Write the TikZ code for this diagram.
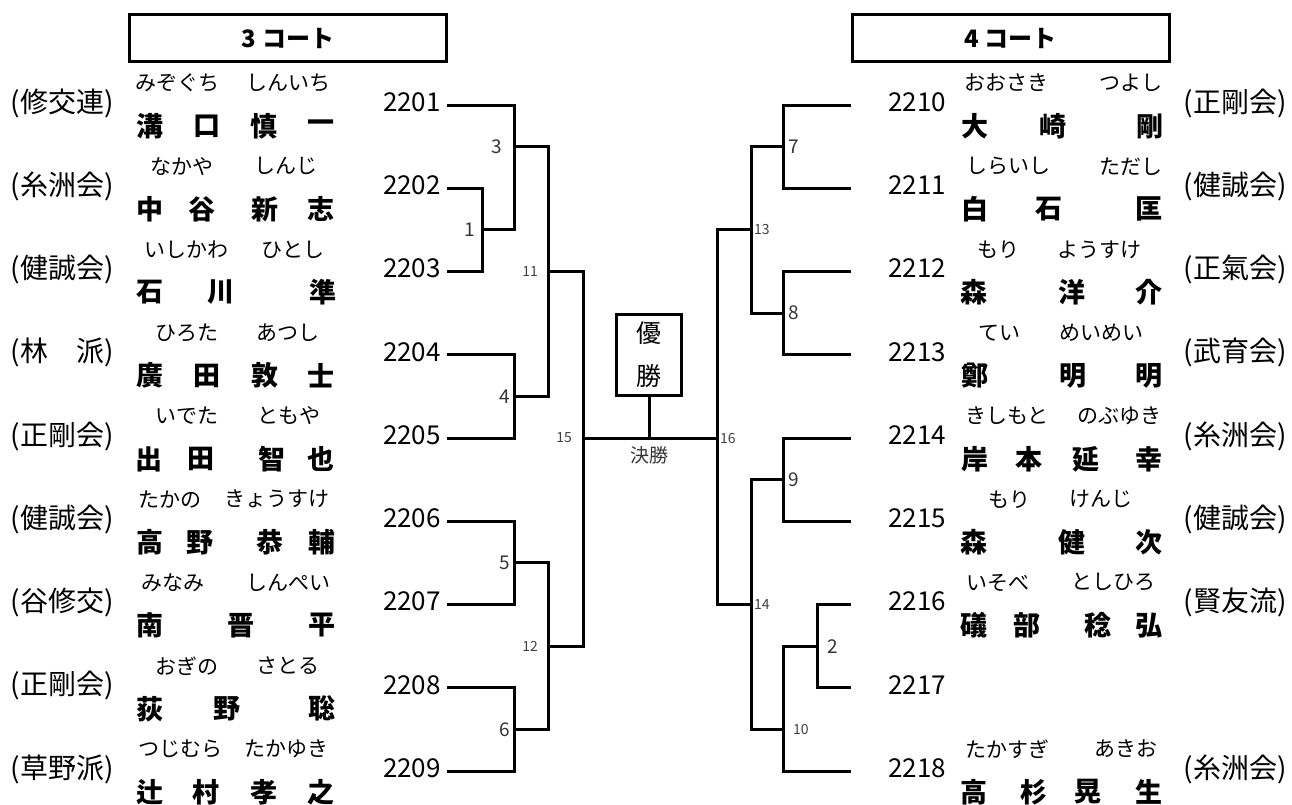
\documentclass[tikz,border=0pt]{standalone}
\usepackage{fontspec}
\setmainfont{Noto Sans CJK JP}
\usetikzlibrary{positioning}
\tikzset{
    brk/.style={line width=3pt},
    court/.style={draw, line width=3pt, minimum width=317pt, minimum height=47pt, inner sep=0pt,
        font=\fontsize{24}{28}\selectfont\bfseries},
    winbox/.style={draw, line width=3pt, minimum width=65pt, minimum height=81pt, inner sep=0pt,
        align=center, font=\fontsize{25}{43}\selectfont},
    num/.style={inner sep=0pt, font=\fontsize{26}{30}\selectfont},
    kai/.style={inner sep=0pt, font=\fontsize{28}{32}\selectfont},
    furi/.style={inner sep=0pt, font=\fontsize{21}{24}\selectfont},
    nmc/.style={inner sep=0pt, font=\fontsize{27}{32}\selectfont\bfseries},
    mno/.style={inner sep=0pt, text=black!80, font=\fontsize{19}{22}\selectfont},
    mnos/.style={inner sep=0pt, text=black!75, font=\fontsize{14}{17}\selectfont}
}
\begin{document}
\begin{tikzpicture}[x=1pt, y=-1pt]
    \useasboundingbox (0,0) rectangle (1292,804);
    \node[court] (c3) at (288,38) {3 コート};
    \node[court] (c4) at (1010.5,38) {4 コート};
    % 3 court side
    \foreach \i/\y/\kai/\fa/\xa/\fb/\xb/\nm in {
        2201/105/修交連/みぞぐち/177/しんいち/288/{溝/150,口/207,慎/264,一/321},
        2202/188.25/糸洲会/なかや/182/しんじ/286/{中/150,谷/202,新/265,志/321},
        2203/271.5/健誠会/いしかわ/186/ひとし/293/{石/150,川/221,準/323},
        2204/354.75/林　派/ひろた/187/あつし/288/{廣/150,田/207,敦/265,士/321},
        2205/438/正剛会/いでた/187/ともや/289/{出/149,田/201,智/272,也/321},
        2206/521.25/健誠会/たかの/170/きょうすけ/277/{高/150,野/200,恭/270,輔/322},
        2207/604.5/谷修交/みなみ/173/しんぺい/288/{南/150,晋/241,平/322},
        2208/687.75/正剛会/おぎの/187/さとる/288/{荻/150,野/227,聡/322},
        2209/771/草野派/つじむら/180/たかゆき/286/{辻/150,村/206,孝/264,之/321}}{
        \node[num, anchor=east] (n\i) at (441,\y-3) {\i};
        \coordinate (p\i) at (447,\y);
        \node[kai] (k\i) at (62,\y-2) {(\kai)};
        \node[furi] (fa\i) at (\xa,\y-22) {\fa};
        \node[furi] (fb\i) at (\xb,\y-22) {\fb};
        \foreach \c/\x [count=\k] in \nm
            \node[nmc] (c\i-\k) at (\x,\y+21) {\c};
    }
    % 4 court side
    \foreach \i/\y/\kai/\fa/\xa/\fb/\xb/\nm in {
        2210/105/正剛会/おおさき/1006/つよし/1131/{大/975,崎/1053,剛/1150},
        2211/188.25/健誠会/しらいし/1008/ただし/1131/{白/975,石/1049,匡/1149},
        2212/271.5/正氣会/もり/998/ようすけ/1099/{森/974,洋/1072,介/1149},
        2213/354.75/武育会/てい/999/めいめい/1101/{鄭/975,明/1073,明/1149},
        2214/438/糸洲会/きしもと/1007/のぶゆき/1119/{岸/975,本/1029,延/1086,幸/1149},
        2215/521.25/健誠会/もり/1009/けんじ/1101/{森/974,健/1072,次/1149},
        2216/604.5/賢友流/いそべ/998/としひろ/1113/{礒/974,部/1027,稔/1098,弘/1149},
        2218/771/糸洲会/たかすぎ/1007/あきお/1126/{高/974,杉/1034,晃/1088,生/1149}}{
        \node[num, anchor=west] (n\i) at (888,\y-3) {\i};
        \coordinate (p\i) at (851,\y);
        \node[kai] (k\i) at (1235,\y-2) {(\kai)};
        \node[furi] (fa\i) at (\xa,\y-22) {\fa};
        \node[furi] (fb\i) at (\xb,\y-22) {\fb};
        \foreach \c/\x [count=\k] in \nm
            \node[nmc] (c\i-\k) at (\x,\y+21) {\c};
    }
    \node[num, anchor=west] (n2217) at (888,684.75) {2217};
    \coordinate (p2217) at (851,687.75);

    \coordinate (j1) at (482,229.9);
    \coordinate (j3) at (514,146.6);
    \coordinate (j4) at (514,396.4);
    \coordinate (j5) at (514,562.9);
    \coordinate (j6) at (514,729.4);
    \coordinate (j11) at (548,271.5);
    \coordinate (j12) at (548,646.1);
    \coordinate (j15) at (583,438);
    \coordinate (j7) at (783,146.6);
    \coordinate (j8) at (783,313.1);
    \coordinate (j9) at (783,479.6);
    \coordinate (j2) at (817,646.1);
    \coordinate (j10) at (783,729.4);
    \coordinate (j13) at (751,229.9);
    \coordinate (j14) at (751,604.5);
    \coordinate (j16) at (717,438);

    \draw[brk] (p2201) -| (j3 |- j1) -- (j1);
    \draw[brk] (p2202) -| (j1) |- (p2203);
    \draw[brk] (p2204) -| (j4) |- (p2205);
    \draw[brk] (p2206) -| (j5) |- (p2207);
    \draw[brk] (p2208) -| (j6) |- (p2209);
    \draw[brk] (j3) -| (j11) |- (j4);
    \draw[brk] (j5) -| (j12) |- (j6);
    \draw[brk] (j11) -| (j15) |- (j12);
    \draw[brk] (p2210) -| (j7) |- (p2211);
    \draw[brk] (p2212) -| (j8) |- (p2213);
    \draw[brk] (p2214) -| (j9) |- (p2215);
    \draw[brk] (p2216) -| (j2) |- (p2217);
    \draw[brk] (j2) -| (j10) |- (p2218);
    \draw[brk] (j7) -| (j13) |- (j8);
    \draw[brk] (j9) -| (j14) |- (j10);
    \draw[brk] (j13) -| (j16) |- (j14);
    \draw[brk] (j15) -- (j16);

    \node[winbox] (win) at (649,355) {優\\勝};
    \coordinate (fin) at (win |- j15);
    \draw[brk] (win) -- (fin);
    \node[mno, below=8pt of fin] (kessho) {決勝};

    \node[mno, left=12pt of j3] (l3) {3};
    \node[mno, left=7pt of j1] (l1) {1};
    \node[mnos, left=10pt of j11] (l11) {11};
    \node[mno, left=4pt of j4] (l4) {4};
    \node[mnos, left=11pt of j15] (l15) {15};
    \node[mno, left=4pt of j5] (l5) {5};
    \node[mnos, left=10pt of j12] (l12) {12};
    \node[mno, left=4pt of j6] (l6) {6};
    \node[mno, right=5pt of j7] (l7) {7};
    \node[mnos, right=3pt of j13] (l13) {13};
    \node[mno, right=5pt of j8] (l8) {8};
    \node[mnos, right=3pt of j16] (l16) {16};
    \node[mno, right=5pt of j9] (l9) {9};
    \node[mnos, right=3pt of j14] (l14) {14};
    \node[mno, right=10pt of j2] (l2) {2};
    \node[mnos, right=10pt of j10] (l10) {10};
\end{tikzpicture}
\end{document}
